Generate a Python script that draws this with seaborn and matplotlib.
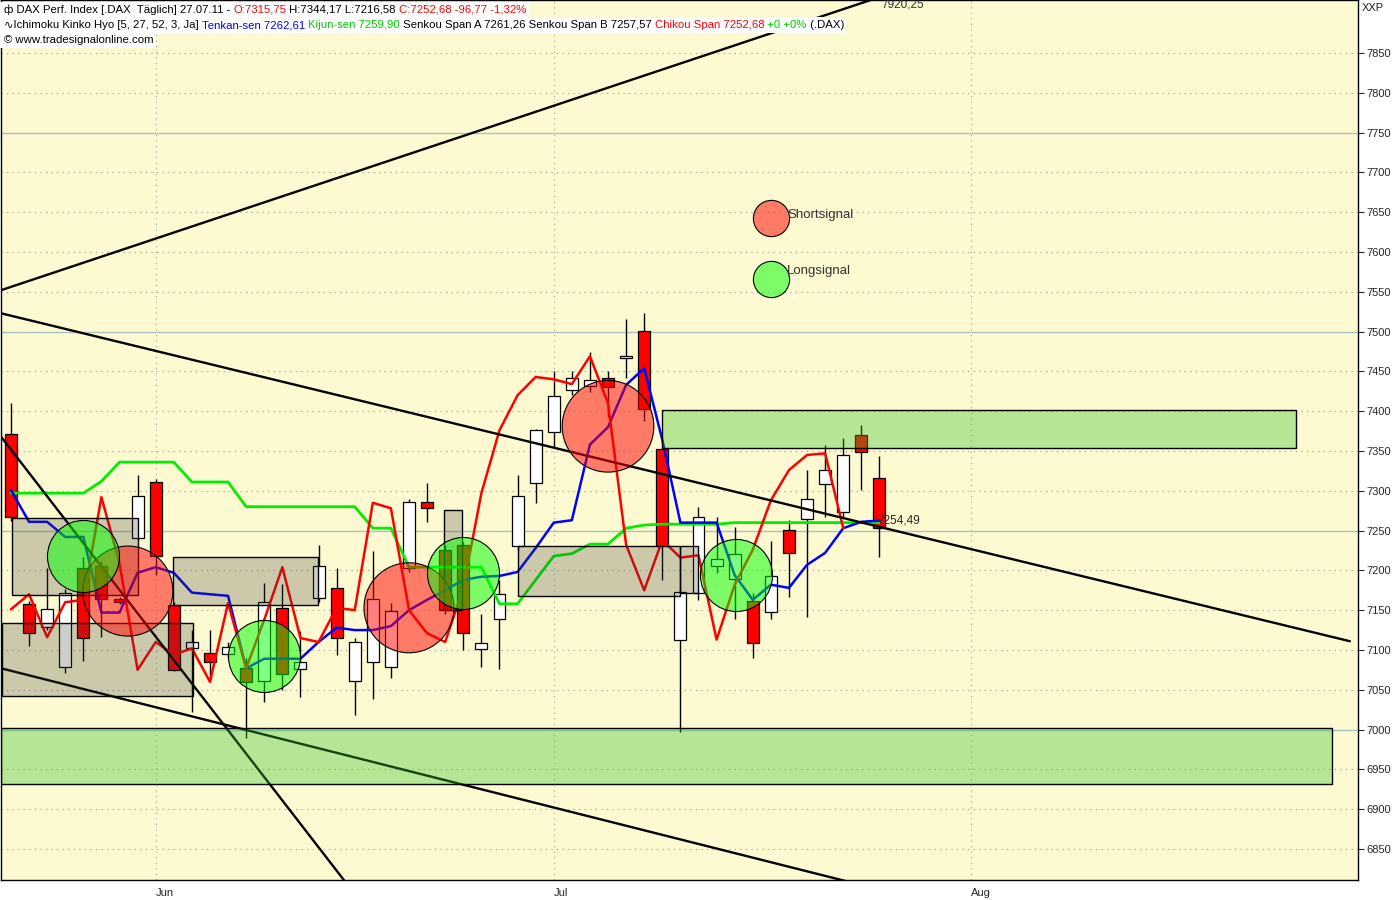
import numpy as np
import pandas as pd
import matplotlib
matplotlib.use('Agg')
import matplotlib.pyplot as plt
import seaborn as sns
from matplotlib.patches import Rectangle

# daily candles, 20.05.11 - 27.07.11 (index = trading day)
opens = [7371, 7158, 7129, 7079, 7203, 7206, 7164, 7241, 7311, 7157,
         7102, 7096, 7095, 7077, 7061, 7153, 7076, 7165, 7178, 7061,
         7085, 7079, 7203, 7286, 7226, 7232, 7101, 7139, 7231, 7310,
         7374, 7427, 7432, 7442, 7467, 7501, 7352, 7113, 7172, 7205,
         7189, 7162, 7148, 7251, 7265, 7309, 7273, 7370, 7315.75]
highs = [7410, 7162, 7203, 7176, 7217, 7212, 7166, 7320, 7315, 7160,
         7125, 7125, 7110, 7090, 7184, 7183, 7124, 7232, 7203, 7115,
         7224, 7159, 7290, 7310, 7232, 7236, 7145, 7188, 7320, 7378,
         7450, 7450, 7474, 7450, 7516, 7523, 7355, 7175, 7280, 7267,
         7255, 7172, 7237, 7263, 7326, 7357, 7366, 7383, 7344.17]
lows = [7262, 7105, 7125, 7071, 7086, 7116, 7158, 7238, 7194, 7073,
        7022, 7061, 7090, 6990, 7035, 7050, 7041, 7160, 7094, 7018,
        7038, 7065, 7198, 7261, 7145, 7100, 7079, 7076, 7225, 7285,
        7355, 7420, 7424, 7393, 7442, 7388, 7188, 6997, 7163, 7197,
        7139, 7090, 7139, 7167, 7141, 7267, 7266, 7301, 7216.58]
closes = [7267, 7121, 7152, 7172, 7115, 7164, 7160, 7293, 7218, 7075,
          7110, 7085, 7104, 7060, 7160, 7070, 7085, 7206, 7115, 7110,
          7164, 7149, 7286, 7278, 7150, 7121, 7109, 7170, 7293, 7376,
          7419, 7442, 7439, 7430, 7469, 7403, 7231, 7173, 7267, 7214,
          7221, 7109, 7193, 7222, 7290, 7326, 7345, 7349, 7252.68]

tenkan = [7301, 7261, 7261, 7242, 7242, 7147, 7147, 7197, 7204, 7197,
          7172, 7170, 7168, 7077, 7089, 7089, 7089, 7110, 7128, 7125,
          7125, 7130, 7150, 7163, 7175, 7188, 7192, 7193, 7198, 7228,
          7260, 7263, 7358, 7380, 7433, 7454, 7364, 7260, 7260, 7260,
          7194, 7163, 7182, 7178, 7207, 7222, 7253, 7261, 7262.61]
kijun = [7297, 7297, 7297, 7297, 7297, 7312, 7336, 7336, 7336, 7336,
         7311, 7311, 7311, 7280, 7280, 7280, 7280, 7280, 7280, 7280,
         7253, 7253, 7204, 7204, 7204, 7204, 7204, 7158, 7158, 7188,
         7218, 7221, 7233, 7233, 7253, 7257, 7258, 7258, 7258, 7258,
         7260, 7260, 7260, 7260, 7260, 7260, 7260, 7260, 7259.90]
chikou = [7151, 7170, 7116, 7160, 7163, 7292, 7209, 7075, 7110, 7094,
          7102, 7060, 7159, 7077, 7138, 7204, 7115, 7110, 7153, 7150,
          7285, 7278, 7150, 7121, 7110, 7178, 7297, 7376, 7420, 7443,
          7440, 7434, 7469, 7410, 7232, 7175, 7238, 7216, 7219, 7113,
          7182, 7226, 7288, 7326, 7345, 7347, 7253]

# signal circles: (index, price)
short_x = [6.46, 22.0, 33.0]
short_y = [7174, 7153, 7381]
short_size = [4200, 4200, 4350]
long_x = [3.98, 14.0, 25.0, 40.06]
long_y = [7218, 7092, 7197, 7194]

# trend lines: x0, p0, x1, p1
trend_lines = [(-0.55, 7552, 48.0, 7920.25),
               (-0.55, 7523, 74.0, 7111),
               (-0.55, 7368, 18.4, 6811),
               (-0.55, 7077, 48.0, 6799)]

# zones: x0, x1, p_low, p_high, kind
zones = [(36.0, 71.0, 7354, 7401.5, 'g'),
         (-0.55, 73.0, 6932, 7002, 'g'),
         (0.05, 7.0, 7169, 7266, 'b'),
         (-0.5, 10.05, 7042, 7134, 'b'),
         (8.95, 16.95, 7157, 7217, 'b'),
         (23.95, 24.95, 7150, 7276, 'b'),
         (28.0, 36.96, 7168, 7230, 'b'),
         (36.96, 38.0, 7172, 7230, 'b')]

month_pos = [8, 30, 53.04]
month_lbl = ['Jun', 'Jul', 'Aug']

sns.set_style('white')
plt.rcParams['font.family'] = ['Liberation Sans', 'DejaVu Sans']

BG = '#fdf9d0'
fig = plt.figure(figsize=(14, 9), dpi=100)
ax = fig.add_axes([1 / 1400, 20 / 900, 1357 / 1400, 880 / 900])
ax.set_facecolor(BG)

# grid
yt = np.arange(6850, 7851, 50)
for p in yt:
    if p % 250 == 0:
        ax.axhline(p, color='#a8c4bc', lw=1, zorder=0)
    else:
        ax.axhline(p, color='#9a9a9a', lw=0.8, ls=(0, (1, 4)), zorder=0)
for m in month_pos:
    ax.axvline(m, color='#9aa8a0', lw=0.8, ls=(0, (1, 4)), zorder=0)

# candles
idx = np.arange(len(opens))
o = np.array(opens)
c = np.array(closes)
ax.vlines(idx, lows, highs, color='black', lw=1, zorder=2)
body_col = ['white' if cc >= oo else '#ff0000' for oo, cc in zip(o, c)]
ax.bar(idx, np.maximum(np.abs(c - o), 2.5), bottom=np.minimum(o, c), width=0.66,
       color=body_col, edgecolor='black', linewidth=0.9, zorder=3)

# ichimoku lines
df = pd.DataFrame({'idx': idx, 'tenkan': tenkan, 'kijun': kijun})
sns.lineplot(data=df, x='idx', y='kijun', color='#00ee00', lw=2, ax=ax, zorder=4)
sns.lineplot(data=df, x='idx', y='tenkan', color='#0000ff', lw=1.8, ax=ax, zorder=4)
sns.lineplot(x=np.arange(len(chikou)), y=chikou, color='#ff0000', lw=1.8, ax=ax, zorder=4)

# trend lines
for x0, p0, x1, p1 in trend_lines:
    ax.plot([x0, x1], [p0, p1], color='black', lw=1.7, zorder=5)

# zones
for x0, x1, lo, hi, kind in zones:
    fc = (0.21, 0.76, 0.18, 0.36) if kind == 'g' else (0.23, 0.23, 0.23, 0.25)
    ax.add_patch(Rectangle((x0, lo), x1 - x0, hi - lo, facecolor=fc,
                           edgecolor='black', lw=1, zorder=5.5))

# signals
ax.scatter(short_x, short_y, s=short_size, facecolors=[(1, 0, 0, 0.5)],
           edgecolors='black', linewidths=0.8, zorder=6)
ax.scatter(long_x, long_y, s=2690, facecolors=[(0, 1, 0, 0.5)],
           edgecolors='black', linewidths=0.8, zorder=6)
ax.scatter([42.0], [7643], s=680, facecolors=[(1, 0, 0, 0.5)],
           edgecolors='black', linewidths=0.8, zorder=6)
ax.scatter([42.0], [7566], s=680, facecolors=[(0, 1, 0, 0.5)],
           edgecolors='black', linewidths=0.8, zorder=6)
ax.text(42.9, 7646, 'Shortsignal', fontsize=9.5, color='#333333', va='center', zorder=7)
ax.text(42.9, 7576, 'Longsignal', fontsize=9.5, color='#333333', va='center', zorder=7)

ax.text(47.9, 7263, '7254,49', fontsize=8.5, va='center', zorder=7)
ax.text(48.1, 7911, '7920,25', fontsize=8.5, va='center', color='#333333', zorder=7)

ax.set_xlim(-0.55, 74.45)
ax.set_ylim(6811, 7916.6)
ax.set_xlabel('')
ax.set_ylabel('')

ax.yaxis.tick_right()
ax.set_yticks(yt)
ax.set_yticklabels([str(v) for v in yt])
ax.tick_params(axis='y', direction='out', length=4, width=0.8, labelsize=8, pad=2)
ax.set_xticks(month_pos)
ax.set_xticklabels(month_lbl, ha='left')
ax.tick_params(axis='x', direction='out', length=5, width=0.8, labelsize=8, pad=1)
for sp in ax.spines.values():
    sp.set_color('black')
    sp.set_linewidth(1)

fig.text(1362 / 1400, 1 - 8 / 900, 'XXP', fontsize=8, va='center', color='#222222')

# header lines with coloured parts, one white strip behind each line
renderer = fig.canvas.get_renderer()


def header_line(y_px, parts):
    x = 4.0
    texts = []
    for s, col in parts:
        t = fig.text(x / 1400, 1 - y_px / 900, s, color=col, fontsize=8.2, va='center',
                     zorder=5)
        x += t.get_window_extent(renderer).width
        texts.append(t)
    fig.patches.append(Rectangle((0, 1 - (y_px + 7.5) / 900), (x + 2) / 1400, 15 / 900,
                                 transform=fig.transFigure, facecolor='white',
                                 edgecolor='none', zorder=4))


header_line(10, [('ф DAX Perf. Index [.DAX  Täglich] 27.07.11 - ', 'black'),
                 ('O:7315,75', '#ff0000'),
                 (' H:7344,17 L:7216,58 ', 'black'),
                 ('C:7252,68 -96,77 -1,32%', '#ff0000')])
header_line(25, [('∿Ichimoku Kinko Hyo [5, 27, 52, 3, Ja] ', 'black'),
                 ('Tenkan-sen 7262,61', '#0000ff'),
                 (' ', 'black'),
                 ('Kijun-sen 7259,90', '#00cc00'),
                 (' Senkou Span A 7261,26 Senkou Span B 7257,57 ', 'black'),
                 ('Chikou Span 7252,68', '#ff0000'),
                 (' +0 +0%', '#00cc00'),
                 (' (.DAX)', 'black')])
header_line(40, [('© www.tradesignalonline.com', 'black')])

fig.savefig('out.png', dpi=100, facecolor='white')
